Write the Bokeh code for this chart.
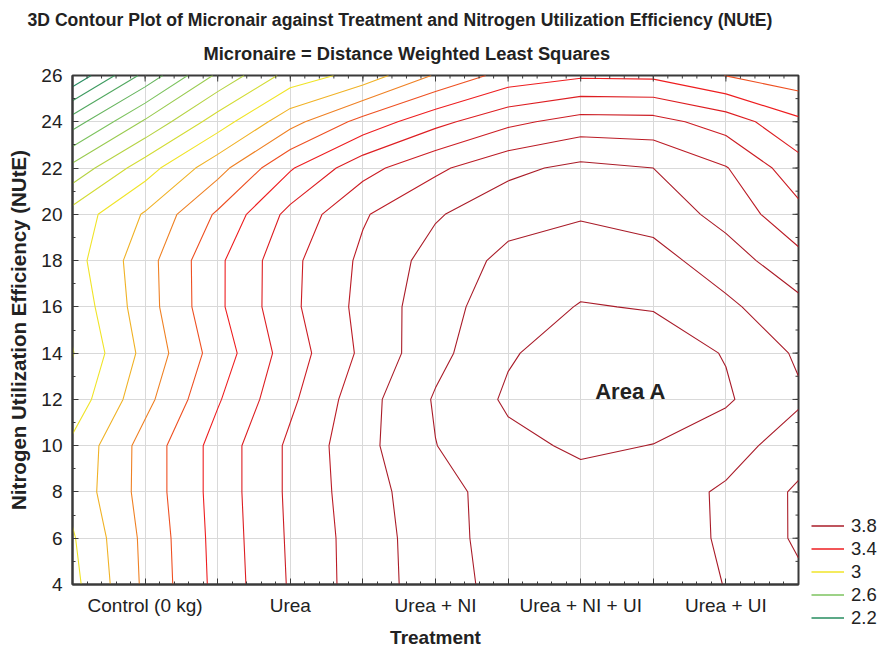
import math
import numpy as np
from bokeh.plotting import figure
from bokeh.layouts import row
from bokeh.models import FixedTicker, Legend, LegendItem, Title
from bokeh.core.properties import value
from bokeh.embed import file_html
from bokeh.resources import INLINE

# ---------------- data ----------------
treatments = ["Control (0 kg)", "Urea", "Urea + NI", "Urea + NI + UI", "Urea + UI"]
treatment_pos = [1, 2, 3, 4, 5]
grid_treatment = [0.5, 1.0, 1.5, 2.0, 2.5, 3.0, 3.5, 4.0, 4.5, 5.0, 5.5]
grid_nute = [4, 6, 8, 10, 12, 14, 16, 18, 20, 22, 24, 26]
# micronaire surface, one row per NUtE value (bottom to top)
micronaire = [
    [2.97, 3.22, 3.43, 3.61, 3.75, 3.85, 3.94, 3.95, 3.94, 3.898, 3.82],
    [2.99, 3.225, 3.435, 3.615, 3.75, 3.855, 3.95, 3.97, 3.95, 3.887, 3.785],
    [3.03, 3.24, 3.44, 3.62, 3.76, 3.86, 3.95, 3.965, 3.95, 3.885, 3.785],
    [3.02, 3.24, 3.44, 3.62, 3.77, 3.898, 3.975, 4.015, 3.998, 3.945, 3.845],
    [2.94, 3.17, 3.39, 3.58, 3.76, 3.91, 4.015, 4.05, 4.05, 4.012, 3.915],
    [2.895, 3.13, 3.345, 3.55, 3.72, 3.87, 3.99, 4.05, 4.045, 3.995, 3.885],
    [2.93, 3.155, 3.38, 3.577, 3.73, 3.86, 3.955, 4.005, 3.995, 3.92, 3.83],
    [2.96, 3.16, 3.38, 3.575, 3.72, 3.84, 3.925, 3.96, 3.935, 3.85, 3.73],
    [2.94, 3.11, 3.315, 3.53, 3.69, 3.79, 3.865, 3.89, 3.865, 3.765, 3.63],
    [2.73, 2.956, 3.163, 3.39, 3.564, 3.68, 3.775, 3.825, 3.8, 3.706, 3.54],
    [2.45, 2.715, 2.95, 3.165, 3.335, 3.47, 3.575, 3.64, 3.635, 3.555, 3.42],
    [2.12, 2.43, 2.72, 2.94, 3.04, 3.21, 3.34, 3.385, 3.38, 3.298, 3.24],
]
levels = [2.2, 2.3, 2.4, 2.5, 2.6, 2.7, 2.8, 2.9, 3.0, 3.1, 3.2, 3.3, 3.4,
          3.5, 3.6, 3.7, 3.8, 3.9, 4.0]
legend_levels = [3.8, 3.4, 3.0, 2.6, 2.2]
legend_labels = ["3.8", "3.4", "3", "2.6", "2.2"]
nute_ticks = [4, 6, 8, 10, 12, 14, 16, 18, 20, 22, 24, 26]
nute_minor = list(range(4, 27))
treat_grid_ticks = [0.5, 1.0, 1.5, 2.0, 2.5, 3.0, 3.5, 4.0, 4.5, 5.0, 5.5]
treat_minor = [round(0.5 + 0.1 * i, 1) for i in range(51)]

# ---------------- colour scale ----------------
anchors = [(2.2, (38, 140, 95)), (2.6, (125, 195, 95)), (3.0, (240, 228, 40)),
           (3.4, (238, 30, 32)), (3.8, (170, 28, 40)), (4.2, (165, 25, 40))]


def level_color(v):
    for (a, ca), (b, cb) in zip(anchors[:-1], anchors[1:]):
        if a <= v <= b:
            t = (v - a) / (b - a)
            c = [round(ca[i] + t * (cb[i] - ca[i])) for i in range(3)]
            return "#%02x%02x%02x" % tuple(c)
    return "#%02x%02x%02x" % anchors[-1][1]


FONT = "Liberation Sans"
AXC = "#3a3a3a"
TXT = "#222222"

p = figure(width=800, height=650, x_range=(0.5, 5.5), y_range=(4, 26),
           output_backend="svg", toolbar_location=None,
           min_border_left=72, min_border_right=2, min_border_bottom=64,
           min_border_top=75)
p.background_fill_color = "white"
p.border_fill_color = "white"
p.outline_line_color = AXC
p.outline_line_width = 2

z = np.array(micronaire)
p.contour(grid_treatment, grid_nute, z, levels,
          line_color=[level_color(v) for v in levels], line_width=1.1)

# grid
p.xgrid.ticker = FixedTicker(ticks=treat_grid_ticks)
p.ygrid.ticker = FixedTicker(ticks=nute_ticks)
for g in (p.xgrid, p.ygrid):
    g.grid_line_color = "#d9d9d9"
    g.grid_line_width = 1

# axes
xt = FixedTicker(ticks=treat_grid_ticks, minor_ticks=treat_minor)
yt = FixedTicker(ticks=nute_ticks, minor_ticks=nute_minor)
p.xaxis.ticker = xt
overrides = {t: "" for t in treat_grid_ticks}
overrides.update({t: lab for t, lab in zip(treatment_pos, treatments)})
p.xaxis.major_label_overrides = overrides
p.yaxis.ticker = yt
for ax in (p.xaxis[0], p.yaxis[0]):
    ax.axis_line_color = AXC
    ax.axis_line_width = 2
    ax.major_tick_in = 6
    ax.major_tick_out = 0
    ax.minor_tick_in = 3
    ax.minor_tick_out = 0
    ax.major_tick_line_color = AXC
    ax.minor_tick_line_color = AXC
    ax.major_label_text_font = FONT
    ax.major_label_text_font_size = "19px"
    ax.major_label_text_color = TXT
    ax.axis_label_text_font = FONT
    ax.axis_label_text_font_style = "bold"
    ax.axis_label_text_color = TXT
p.xaxis.axis_label = "Treatment"
p.xaxis.axis_label_text_font_size = "19px"
p.xaxis.major_label_standoff = 10
p.xaxis.axis_label_standoff = 8
p.yaxis.axis_label = "Nitrogen Utilization Efficiency (NUtE)"
p.yaxis.axis_label_text_font_size = "20.5px"
p.yaxis.major_label_standoff = 10
p.yaxis.axis_label_standoff = 8

# inward ticks on the top and right frame edges
y_top = nute_ticks[-1]
x_right = treat_grid_ticks[-1]
p.scatter(x=treat_grid_ticks, y=[y_top] * len(treat_grid_ticks), marker="dash",
          angle=math.pi / 2, size=12, line_color=AXC, line_width=1)
p.scatter(x=treat_minor, y=[y_top] * len(treat_minor), marker="dash",
          angle=math.pi / 2, size=6, line_color=AXC, line_width=1)
p.scatter(x=[x_right] * len(nute_ticks), y=nute_ticks, marker="dash",
          size=12, line_color=AXC, line_width=1)
p.scatter(x=[x_right] * len(nute_minor), y=nute_minor, marker="dash",
          size=6, line_color=AXC, line_width=1)

# titles
p.add_layout(Title(text="Micronaire = Distance Weighted Least Squares", align="left",
                   offset=131, vertical_align="top",
                   text_font=FONT, text_font_size="18.3px", text_font_style="bold",
                   text_color=TXT, standoff=19), "above")
p.title.text = "3D Contour Plot of Micronair against Treatment and Nitrogen Utilization Efficiency (NUtE)"
p.title.align = "left"
p.title.offset = -45
p.title.vertical_align = "top"
p.title.text_font = FONT
p.title.text_font_size = "17.6px"
p.title.text_font_style = "bold"
p.title.text_color = TXT
p.title.standoff = 3

# annotation
p.text(x=[4.1], y=[12.35], text=["Area A"], text_font=value(FONT), text_font_size="22px",
       text_font_style="bold", text_color=TXT, text_baseline="middle",
       text_align="left")

# legend of contour colours, in a narrow companion panel on the right
leg = figure(width=78, height=650, output_backend="svg", toolbar_location=None,
             x_axis_location=None, y_axis_location=None,
             min_border_left=0, min_border_right=0, min_border_top=0,
             min_border_bottom=0, x_range=(0, 1), y_range=(0, 1))
leg_full = "frame_align" in leg.properties()
if leg_full:
    leg.frame_align = False
leg.outline_line_color = None
leg.xgrid.visible = False
leg.ygrid.visible = False
leg.background_fill_color = "white"
leg.border_fill_color = "white"
items = []
for v, lab in zip(legend_levels, legend_labels):
    r = leg.line(x=[np.nan, np.nan], y=[np.nan, np.nan], line_color=level_color(v),
                 line_width=1.5)
    items.append(LegendItem(label=lab, renderers=[r]))
legend = Legend(items=items, location=(11, 21 if leg_full else -45), glyph_width=33,
                glyph_height=23, label_height=23, spacing=0, padding=0, margin=0,
                label_standoff=7, label_text_font=FONT, label_text_font_size="18.5px",
                label_text_color=TXT, border_line_color=None,
                background_fill_alpha=0)
leg.add_layout(legend)

layout = row(p, leg)
open("out.html", "w").write(file_html(layout, INLINE))
